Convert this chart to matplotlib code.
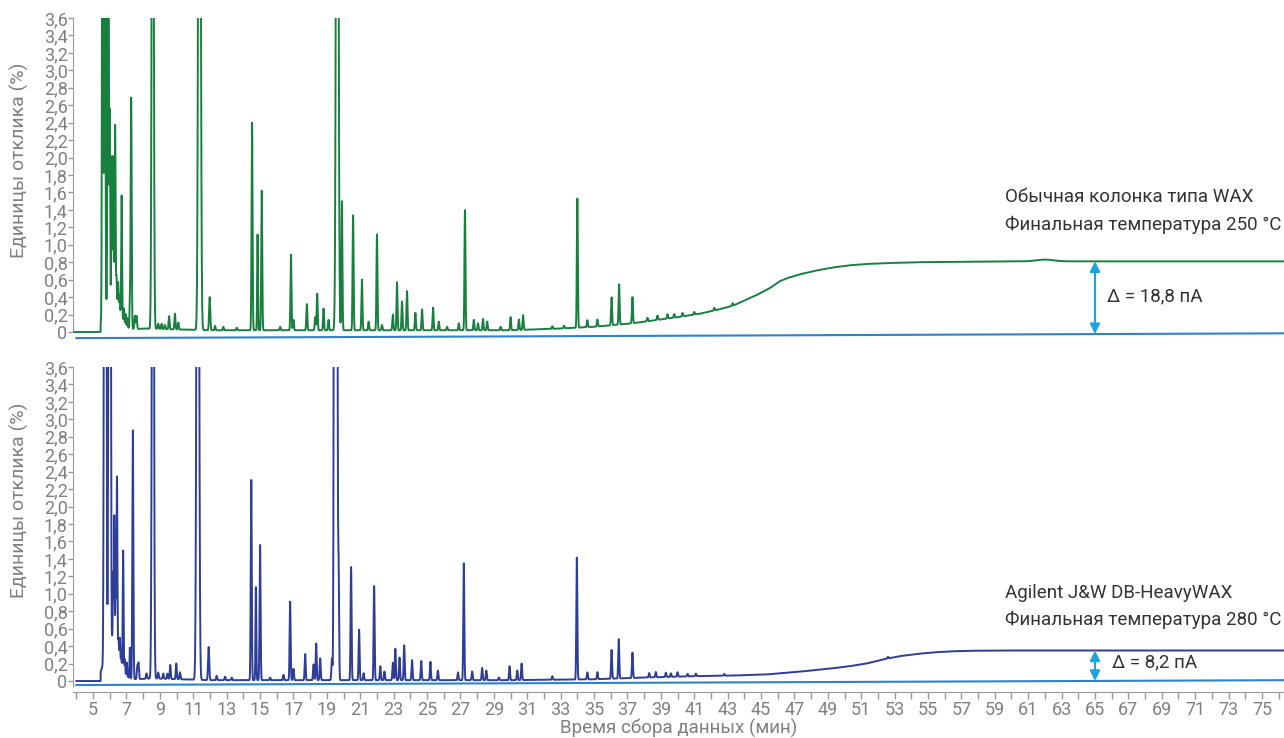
import numpy as np
import matplotlib
matplotlib.use("Agg")
import matplotlib.pyplot as plt
from matplotlib.ticker import FuncFormatter, MultipleLocator

plt.rcParams["font.family"] = ["Roboto", "DejaVu Sans"]

# --- data (time in min, response in %) ---
# top trace: conventional WAX column
wax_peak_t = [5.57, 5.70, 5.90, 6.00, 6.10, 6.16, 6.23, 6.32, 6.40, 6.50, 6.58, 6.71,
              6.85, 6.95, 7.05, 7.20, 7.28, 7.50, 7.60, 8.57, 8.90, 9.10, 9.30, 9.55,
              9.90, 10.10, 11.37, 11.98, 12.30, 12.80, 13.60, 14.52, 14.85, 15.10, 16.20,
              16.85, 17.00, 17.80, 18.30, 18.42, 18.80, 19.10, 19.62, 19.90, 20.57, 21.10,
              21.50, 22.00, 22.30, 22.95, 23.20, 23.50, 23.80, 24.30, 24.70, 25.36, 25.70,
              26.20, 26.90, 27.27, 27.80, 28.05, 28.35, 28.60, 29.40, 30.00, 30.50, 30.75,
              32.50, 33.20, 34.00, 34.60, 35.20, 36.05, 36.50, 37.30, 38.20, 38.80, 39.40,
              39.80, 40.30, 41.00, 42.20, 43.30, 62.00]
wax_peak_h = [9.0, 8.0, 9.0, 2.1, 0.6, 1.55, 0.85, 1.95, 0.25, 0.25, 0.15, 1.38,
              0.15, 0.12, 0.1, 0.33, 2.65, 0.15, 0.15, 10.0, 0.06, 0.06, 0.05, 0.15,
              0.18, 0.08, 12.0, 0.38, 0.05, 0.04, 0.03, 2.38, 1.1, 1.6, 0.04,
              0.87, 0.12, 0.3, 0.15, 0.42, 0.25, 0.12, 12.0, 1.48, 1.32, 0.58,
              0.1, 1.1, 0.06, 0.18, 0.55, 0.33, 0.45, 0.2, 0.24, 0.26, 0.1,
              0.04, 0.08, 1.38, 0.12, 0.08, 0.13, 0.1, 0.04, 0.15, 0.12, 0.17,
              0.03, 0.03, 1.48, 0.08, 0.08, 0.32, 0.46, 0.3, 0.04, 0.05, 0.05,
              0.04, 0.04, 0.03, 0.03, 0.03, 0.02]
wax_peak_w = [0.03, 0.03, 0.03, 0.02, 0.02, 0.02, 0.02, 0.025, 0.02, 0.02, 0.02, 0.025,
              0.02, 0.02, 0.02, 0.02, 0.03, 0.03, 0.03, 0.05, 0.03, 0.03, 0.03, 0.03,
              0.03, 0.03, 0.06, 0.035, 0.03, 0.03, 0.03, 0.03, 0.025, 0.03, 0.03,
              0.03, 0.03, 0.03, 0.03, 0.03, 0.03, 0.03, 0.06, 0.03, 0.03, 0.03,
              0.03, 0.03, 0.03, 0.03, 0.03, 0.03, 0.03, 0.03, 0.03, 0.03, 0.03,
              0.03, 0.03, 0.03, 0.03, 0.03, 0.03, 0.03, 0.03, 0.03, 0.03, 0.03,
              0.03, 0.03, 0.03, 0.03, 0.03, 0.03, 0.03, 0.03, 0.03, 0.03, 0.03,
              0.03, 0.03, 0.03, 0.03, 0.03, 0.5]
wax_hump = (6.15, 0.45, 0.4)  # centre, height, width of the unresolved early hump
wax_base_t = [3.9, 5.4, 8.0, 12.0, 30.0, 33.0, 35.0, 37.3, 40.0, 41.35, 42.5, 43.3,
              44.7, 45.5, 46.1, 46.6, 47.3, 48.3, 49.3, 50.3, 51.3, 52.5, 54.3, 59.3, 76.5]
wax_base_y = [0.0, 0.0, 0.04, 0.02, 0.02, 0.04, 0.06, 0.10, 0.17, 0.21, 0.26, 0.30,
              0.42, 0.50, 0.58, 0.62, 0.66, 0.705, 0.74, 0.765, 0.78, 0.79, 0.80, 0.81, 0.81]
wax_ref = [-0.07, -0.015]  # blank-run line at start / end

# bottom trace: Agilent J&W DB-HeavyWAX
hw_peak_t = [5.68, 5.78, 5.95, 6.05, 6.20, 6.27, 6.35, 6.43, 6.52, 6.60, 6.68, 6.80,
             6.90, 7.02, 7.20, 7.38, 7.65, 7.72, 8.20, 8.58, 8.90, 9.20, 9.45, 9.62,
             9.98, 10.20, 11.27, 11.92, 12.40, 12.90, 13.30, 14.47, 14.75, 15.00, 15.60,
             16.40, 16.80, 17.00, 17.70, 18.20, 18.36, 18.60, 19.30, 19.47, 19.58, 19.70,
             20.45, 20.93, 21.20, 21.83, 22.20, 22.45, 22.95, 23.10, 23.35, 23.63, 24.10,
             24.65, 25.20, 25.65, 26.85, 27.20, 27.70, 28.30, 28.55, 29.30, 29.94, 30.40,
             30.66, 32.50, 33.97, 34.60, 35.20, 36.05, 36.48, 37.30, 38.30, 38.70, 39.30,
             39.60, 40.00, 40.60, 41.10, 42.80, 52.60]
hw_peak_h = [8.0, 7.0, 8.0, 6.0, 0.75, 1.42, 0.8, 1.95, 0.15, 0.22, 0.05, 1.35,
             0.15, 0.15, 0.35, 2.85, 0.15, 0.18, 0.06, 10.0, 0.07, 0.06, 0.06, 0.16,
             0.18, 0.08, 12.0, 0.38, 0.05, 0.04, 0.03, 2.3, 1.07, 1.55, 0.03,
             0.06, 0.9, 0.13, 0.3, 0.18, 0.42, 0.25, 0.25, 14.0, 14.0, 1.3,
             1.3, 0.58, 0.08, 1.08, 0.16, 0.1, 0.2, 0.36, 0.26, 0.4, 0.23,
             0.22, 0.21, 0.11, 0.09, 1.34, 0.1, 0.14, 0.11, 0.03, 0.16, 0.11,
             0.19, 0.04, 1.4, 0.08, 0.08, 0.33, 0.45, 0.29, 0.05, 0.06, 0.05,
             0.04, 0.05, 0.03, 0.03, 0.02, 0.02]
hw_peak_w = [0.035, 0.03, 0.035, 0.025, 0.02, 0.02, 0.02, 0.025, 0.02, 0.02, 0.02, 0.025,
             0.02, 0.02, 0.02, 0.03, 0.03, 0.03, 0.03, 0.05, 0.03, 0.03, 0.03, 0.03,
             0.03, 0.03, 0.06, 0.035, 0.03, 0.03, 0.03, 0.03, 0.025, 0.03, 0.03,
             0.03, 0.03, 0.03, 0.03, 0.03, 0.03, 0.03, 0.03, 0.04, 0.04, 0.03,
             0.03, 0.03, 0.03, 0.03, 0.03, 0.03, 0.03, 0.03, 0.03, 0.03, 0.03,
             0.03, 0.03, 0.03, 0.03, 0.03, 0.03, 0.03, 0.03, 0.03, 0.03, 0.03,
             0.03, 0.03, 0.03, 0.03, 0.03, 0.03, 0.03, 0.03, 0.03, 0.03, 0.03,
             0.03, 0.03, 0.03, 0.03, 0.03, 0.03]
hw_hump = (6.15, 0.5, 0.4)
hw_base_t = [4.0, 5.5, 8.5, 12.0, 30.0, 35.0, 38.0, 41.35, 43.3, 45.3, 47.3, 49.3,
             50.3, 51.3, 52.5, 53.3, 54.3, 55.3, 56.3, 57.5, 59.3, 76.5]
hw_base_y = [0.0, 0.0, 0.03, 0.01, 0.01, 0.02, 0.04, 0.057, 0.063, 0.075, 0.107, 0.146,
             0.17, 0.20, 0.255, 0.285, 0.31, 0.328, 0.34, 0.347, 0.35, 0.35]
hw_ref = [-0.046, 0.01]

x_ticks = list(range(5, 77, 2))
y_ticks = [round(0.2 * i, 1) for i in range(19)]

delta_t = 65.0
labels_top = ["Обычная колонка типа WAX", "Финальная температура 250 °C", "Δ = 18,8 пА"]
labels_bot = ["Agilent J&W DB-HeavyWAX", "Финальная температура 280 °C", "Δ = 8,2 пА"]

GREEN = "#17803f"
NAVY = "#2e3d97"
REF = "#2d82c9"
ARROW = "#1aa3e3"
GRAY = "#808080"
TXT = "#333333"


def trace(t0, peak_t, peak_h, peak_w, hump, base_t, base_y):
    t = np.arange(t0, 76.5, 0.004)
    y = np.interp(t, base_t, base_y)
    ok = t > 5.45
    y += ok * hump[1] * np.exp(-0.5 * ((t - hump[0]) / hump[2]) ** 2)
    for c, h, w in zip(peak_t, peak_h, peak_w):
        y += h * np.exp(-0.5 * ((t - c) / w) ** 2)
    return t, y


fig = plt.figure(figsize=(12.84, 7.38), dpi=100)
ax1 = fig.add_axes([0.0569, 0.5383, 0.9431, 0.4373])
ax2 = fig.add_axes([0.0569, 0.0630, 0.9431, 0.4397])

panels = [
    (ax1, wax_peak_t, wax_peak_h, wax_peak_w, wax_hump, wax_base_t, wax_base_y, wax_ref,
     GREEN, labels_top, -0.1, 3.9),
    (ax2, hw_peak_t, hw_peak_h, hw_peak_w, hw_hump, hw_base_t, hw_base_y, hw_ref,
     NAVY, labels_bot, -0.12, 4.0),
]

for ax, pt, ph, pw, hump, bt, by, ref, col, labs, ymin, t0 in panels:
    t, y = trace(t0, pt, ph, pw, hump, bt, by)
    ax.plot([4.0, 76.5], ref, color=REF, lw=1.5, zorder=2)
    ax.plot(t, y, color=col, lw=1.4, zorder=3)
    ax.set_xlim(3.8, 76.32)
    ax.set_ylim(ymin, 3.6)

    top_y = np.interp(delta_t, bt, by)
    ref_y = np.interp(delta_t, [4.0, 76.5], ref)
    ax.annotate("", xy=(delta_t, top_y), xytext=(delta_t, ref_y),
                arrowprops=dict(arrowstyle="<|-|>", color=ARROW, lw=1.5,
                                mutation_scale=15, shrinkA=0, shrinkB=0))

    for s in ["top", "right"]:
        ax.spines[s].set_visible(False)
    ax.spines["left"].set_color("#999999")
    ax.set_yticks(y_ticks)
    ax.yaxis.set_major_formatter(FuncFormatter(
        lambda v, p: "0" if abs(v) < 1e-9 else f"{v:.1f}".replace(".", ",")))
    ax.tick_params(axis="y", colors="#999999", labelcolor=GRAY, labelsize=13,
                   length=3.5, width=1, pad=0.5)
    ax.set_ylabel("Единицы отклика (%)", fontsize=14, color=GRAY)

ax1.spines["left"].set_bounds(0, 3.6)
ax2.spines["left"].set_bounds(-0.06, 3.6)
ax1.yaxis.set_label_coords(-0.036, 0.56)
ax2.yaxis.set_label_coords(-0.036, 0.59)

ax1.spines["bottom"].set_visible(False)
ax1.set_xticks([])

ax2.spines["bottom"].set_color("#999999")
ax2.set_xticks(x_ticks)
ax2.xaxis.set_minor_locator(MultipleLocator(1))
ax2.tick_params(axis="x", which="both", colors="#999999", labelcolor=GRAY,
                labelsize=13, length=5, width=1, pad=2)
ax2.set_xlabel("Время сбора данных (мин)", fontsize=13.5, color=GRAY, labelpad=0)

# annotation texts
ax1.text(59.6, 1.55, labels_top[0], fontsize=13.5, color=TXT, va="center")
ax1.text(59.6, 1.23, labels_top[1], fontsize=13.5, color=TXT, va="center")
ax1.text(65.7, 0.41, labels_top[2], fontsize=13.5, color=TXT, va="center")
ax2.text(59.6, 1.01, labels_bot[0], fontsize=13.5, color=TXT, va="center")
ax2.text(59.6, 0.70, labels_bot[1], fontsize=13.5, color=TXT, va="center")
ax2.text(66.0, 0.21, labels_bot[2], fontsize=13.5, color=TXT, va="center")

fig.savefig("out.png", dpi=100)
